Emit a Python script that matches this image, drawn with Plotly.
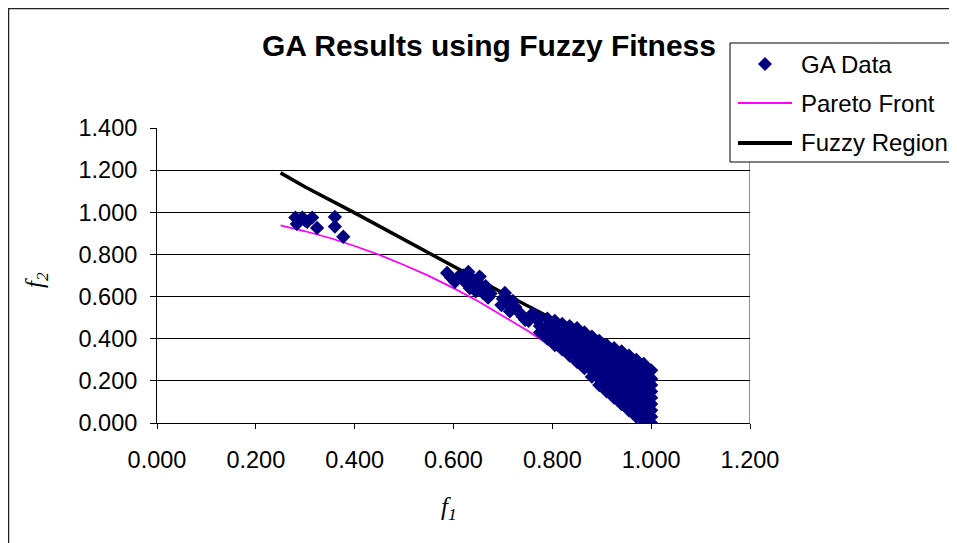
import plotly.graph_objects as go

# GA results: isolated points near the top left, then the dense band
iso_f1 = [0.280, 0.294, 0.314, 0.283, 0.304, 0.324, 0.300, 0.360, 0.360, 0.377]
iso_f2 = [0.975, 0.975, 0.975, 0.945, 0.955, 0.926, 0.960, 0.978, 0.932, 0.884]

mid_f1 = [0.587, 0.595, 0.603, 0.610, 0.620, 0.625, 0.630, 0.633, 0.640, 0.645,
          0.650, 0.653, 0.655, 0.660, 0.665, 0.670, 0.675, 0.697, 0.700, 0.704,
          0.705, 0.714, 0.720, 0.725, 0.735, 0.740, 0.745, 0.752, 0.760, 0.765]
mid_f2 = [0.712, 0.690, 0.670, 0.695, 0.700, 0.665, 0.717, 0.640, 0.680, 0.625,
          0.660, 0.695, 0.635, 0.617, 0.650, 0.595, 0.615, 0.560, 0.590, 0.617,
          0.575, 0.530, 0.580, 0.550, 0.520, 0.505, 0.490, 0.485, 0.520, 0.500]

band_f1 = [0.775, 0.790, 0.805, 0.820, 0.835, 0.850, 0.865, 0.880,
           0.895, 0.910, 0.925, 0.940, 0.955, 0.970, 0.985, 1.000]
band_f2 = [
    [0.43, 0.46, 0.50],
    [0.40, 0.43, 0.46, 0.495],
    [0.37, 0.40, 0.43, 0.46, 0.485],
    [0.35, 0.38, 0.41, 0.44, 0.47],
    [0.32, 0.35, 0.38, 0.41, 0.44, 0.46],
    [0.29, 0.32, 0.35, 0.38, 0.41, 0.45],
    [0.26, 0.29, 0.32, 0.35, 0.38, 0.41, 0.43],
    [0.22, 0.25, 0.28, 0.31, 0.34, 0.37, 0.41],
    [0.18, 0.21, 0.24, 0.27, 0.30, 0.33, 0.36, 0.39],
    [0.15, 0.18, 0.21, 0.24, 0.27, 0.30, 0.33, 0.37],
    [0.12, 0.15, 0.18, 0.21, 0.24, 0.27, 0.30, 0.33, 0.355],
    [0.09, 0.12, 0.15, 0.18, 0.21, 0.24, 0.27, 0.30, 0.32, 0.34],
    [0.06, 0.09, 0.12, 0.15, 0.18, 0.21, 0.24, 0.27, 0.30, 0.32],
    [0.03, 0.06, 0.09, 0.12, 0.15, 0.18, 0.21, 0.24, 0.27, 0.30],
    [0.01, 0.04, 0.07, 0.10, 0.13, 0.16, 0.19, 0.22, 0.25, 0.28],
    [0.00, 0.03, 0.06, 0.09, 0.12, 0.15, 0.18, 0.21, 0.25],
]

# Pareto front
pareto_f1 = [0.25, 0.30, 0.35, 0.40, 0.45, 0.50, 0.55, 0.60,
             0.65, 0.70, 0.75, 0.80, 0.85, 0.90, 0.95, 1.00]
pareto_f2 = [0.938, 0.910, 0.878, 0.840, 0.798, 0.750, 0.698, 0.640,
             0.578, 0.510, 0.438, 0.360, 0.278, 0.190, 0.098, 0.000]

# Fuzzy region boundary
fuzzy_f1 = [0.25, 0.30, 0.40, 0.50, 0.60, 0.70, 0.80, 0.90, 1.00]
fuzzy_f2 = [1.187, 1.120, 0.997, 0.869, 0.741, 0.617, 0.495, 0.370, 0.250]

x_ticks = [0.0, 0.2, 0.4, 0.6, 0.8, 1.0, 1.2]
y_ticks = [0.0, 0.2, 0.4, 0.6, 0.8, 1.0, 1.2, 1.4]

ga_f1 = iso_f1 + mid_f1 + [x for x, ys in zip(band_f1, band_f2) for _ in ys]
ga_f2 = iso_f2 + mid_f2 + [y for ys in band_f2 for y in ys]

FONT = "Liberation Sans, Arial, sans-serif"
SERIF = "Liberation Serif, Times New Roman, serif"
NAVY = "#000080"

# page body has an 8px margin, so the figure starts at (8, 8)
OFF = 8
W, H = 957 - OFF, 543 - OFF
# plot area in page pixels
L, R, T, B = 157, 750, 128, 423


def px_x(p):
    return (p - L) / (R - L)


def px_y(p):
    return (B - p) / (B - T)


fig = go.Figure()

fig.add_trace(go.Scatter(x=pareto_f1, y=pareto_f2, mode="lines", name="Pareto Front",
                         line=dict(color="#FF00FF", width=1.8), showlegend=False))
fig.add_trace(go.Scatter(x=fuzzy_f1, y=fuzzy_f2, mode="lines", name="Fuzzy Region",
                         line=dict(color="black", width=3.5), showlegend=False))
fig.add_trace(go.Scatter(x=ga_f1, y=ga_f2, mode="markers", name="GA Data",
                         marker=dict(symbol="diamond", size=11, color=NAVY, line=dict(width=0)),
                         showlegend=False))

shapes = [
    # chart border
    dict(type="rect", xref="paper", yref="paper", x0=px_x(8.5), x1=px_x(1000),
         y0=px_y(700), y1=px_y(8.5), line=dict(color="#222", width=1.5), layer="below"),
    # plot area right border
    dict(type="line", xref="x", yref="y", x0=1.2, x1=1.2, y0=0, y1=1.4,
         line=dict(color="#909090", width=2), layer="below"),
    # legend box
    dict(type="rect", xref="paper", yref="paper", x0=px_x(730), x1=px_x(1000),
         y0=px_y(162), y1=px_y(43), line=dict(color="black", width=1),
         fillcolor="white", layer="above"),
    dict(type="path", xref="paper", yref="paper", layer="above",
         path="M {a},{b} L {c},{d} L {a},{e} L {f},{d} Z".format(
             a=px_x(765), b=px_y(57), c=px_x(772), d=px_y(64), e=px_y(71), f=px_x(758)),
         fillcolor=NAVY, line=dict(width=0)),
    dict(type="line", xref="paper", yref="paper", layer="above",
         x0=px_x(738), x1=px_x(792), y0=px_y(103), y1=px_y(103),
         line=dict(color="#FF00FF", width=2)),
    dict(type="line", xref="paper", yref="paper", layer="above",
         x0=px_x(738), x1=px_x(792), y0=px_y(143), y1=px_y(143),
         line=dict(color="black", width=4)),
]

annotations = [
    dict(text="<b>GA Results using Fuzzy Fitness</b>", x=px_x(489), y=px_y(46),
         font=dict(family=FONT, size=30, color="black")),
    dict(text="GA Data", x=px_x(799), y=px_y(64), xanchor="left",
         font=dict(family=FONT, size=24, color="black")),
    dict(text="Pareto Front", x=px_x(799), y=px_y(103), xanchor="left",
         font=dict(family=FONT, size=24, color="black")),
    dict(text="Fuzzy Region", x=px_x(799), y=px_y(142), xanchor="left",
         font=dict(family=FONT, size=24, color="black")),
    dict(text="<i>f<sub>1</sub></i>", x=px_x(449), y=px_y(508),
         font=dict(family=SERIF, size=25, color="black")),
    dict(text="<i>f<sub>2</sub></i>", x=px_x(36), y=px_y(280), textangle=-90,
         font=dict(family=SERIF, size=25, color="black")),
]
for a in annotations:
    a.update(xref="paper", yref="paper", showarrow=False)
    a.setdefault("xanchor", "center")
    a.setdefault("yanchor", "middle")

fig.update_layout(
    width=W, height=H,
    margin=dict(l=L - OFF, r=957 - R, t=T - OFF, b=543 - B),
    paper_bgcolor="white", plot_bgcolor="white",
    shapes=shapes, annotations=annotations,
    showlegend=False,
    font=dict(family=FONT, size=23, color="black"),
)
fig.update_xaxes(range=[0, 1.2], tickvals=x_ticks, tickformat=".3f",
                 showgrid=False, zeroline=False, showline=True, linecolor="black", linewidth=1,
                 ticks="outside", ticklen=5, tickcolor="black",
                 ticklabelstandoff=11, tickfont=dict(family=FONT, size=23.5))
fig.update_yaxes(range=[0, 1.4], tickvals=y_ticks, tickformat=".3f",
                 showgrid=True, gridcolor="black", gridwidth=1,
                 zeroline=False, showline=True, linecolor="black", linewidth=1,
                 ticks="outside", ticklen=6, tickcolor="black",
                 ticklabelstandoff=8, tickfont=dict(family=FONT, size=23.5))

fig.write_html("out.html")
